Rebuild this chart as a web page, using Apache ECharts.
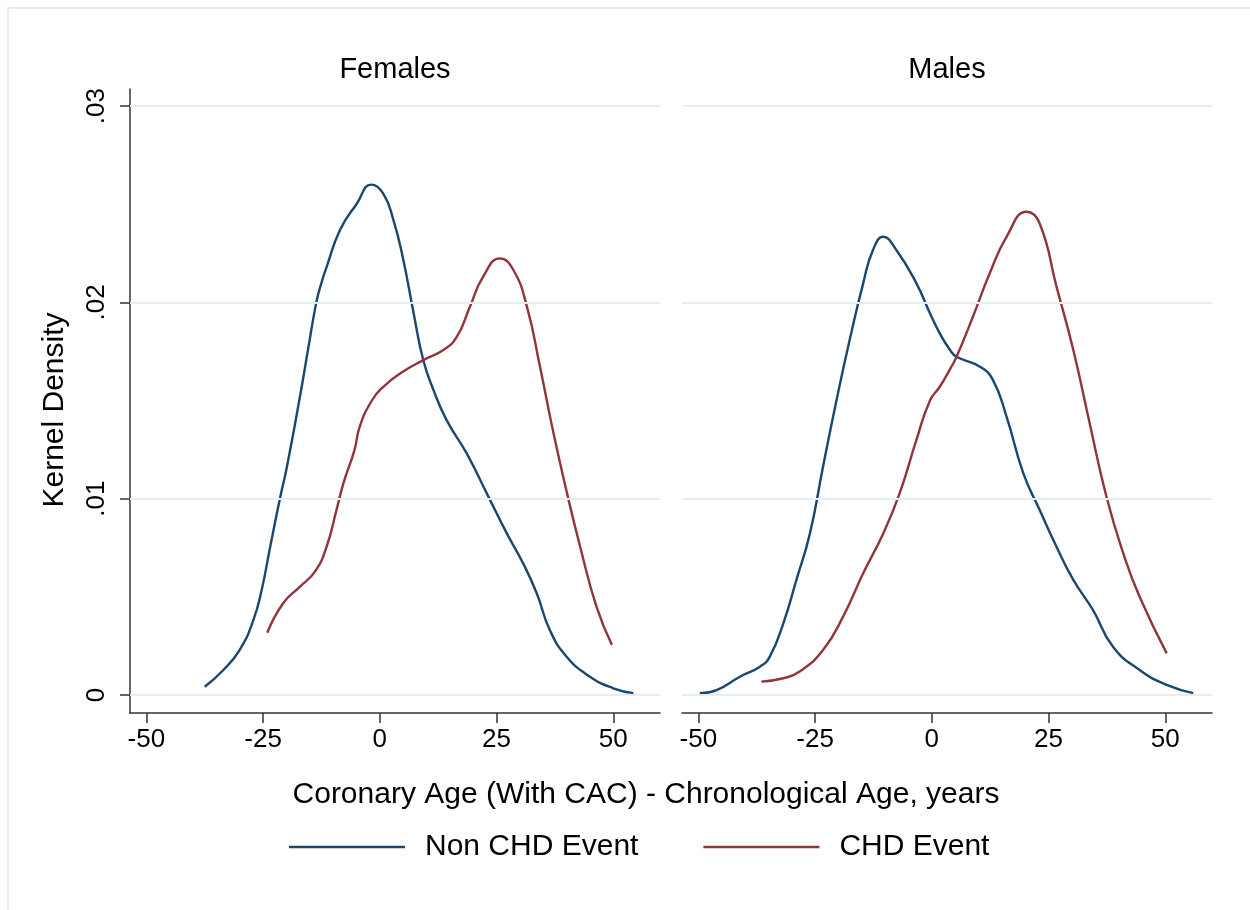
<!DOCTYPE html>
<html>
<head>
<meta charset="utf-8">
<title>Kernel Density</title>
<script src="https://cdn.jsdelivr.net/npm/echarts@6/dist/echarts.min.js"></script>
<style>
  html, body { margin: 0; padding: 0; background: #fff; }
  #chart { width: 1250px; height: 910px; }
</style>
</head>
<body>
<div id="chart"></div>
<script>
// Kernel density of (coronary age - chronological age), by sex and CHD event status
const panels = ['Females', 'Males'];
const seriesNames = ['Non CHD Event', 'CHD Event'];

const xTicks = [-50, -25, 0, 25, 50];
const yTicks = [0, 0.01, 0.02, 0.03];

// Females, no CHD event
const femNonX = [-37.5, -33.5, -30, -27.1, -25.3, -23.6, -21.4, -20, -17.1, -15.3, -13.6, -12.5, -11.4, -8.5, -5, -1.8, 0.7, 2.9, 5, 7.2, 9.3, 11.5, 14.3, 18.6, 22.9, 27.2, 30.7, 33.6, 36.4, 40, 45, 50, 54.3];
const femNonY = [0.00042, 0.00127, 0.0023, 0.0038, 0.00535, 0.0074, 0.0100, 0.0115, 0.0152, 0.0177, 0.0200, 0.0210, 0.0218, 0.0237, 0.0250, 0.0260, 0.02555, 0.0242, 0.0222, 0.0195, 0.01706, 0.01553, 0.0140, 0.01231, 0.01027, 0.00823, 0.0067, 0.00518, 0.00331, 0.00195, 0.00093, 0.00034, 0.00009];

// Females, CHD event
const femChdX = [-24.1, -20.7, -17.1, -13.9, -11.4, -9.3, -7.8, -5.4, -4.3, -1.7, 0.75, 4.5, 9.3, 13.6, 16.5, 19.3, 22.1, 25.7, 28.6, 31.5, 34.3, 37.2, 40.1, 42.9, 46.4, 49.7];
const femChdY = [0.00317, 0.00467, 0.00552, 0.00628, 0.00755, 0.0094, 0.01078, 0.0125, 0.01367, 0.0150, 0.0157, 0.0164, 0.01706, 0.01757, 0.01825, 0.01978, 0.0213, 0.02224, 0.02165, 0.01978, 0.01672, 0.01333, 0.01027, 0.00755, 0.0045, 0.00255];

// Males, no CHD event
const maleNonX = [-49.7, -46.1, -41.1, -36.8, -34.7, -31.8, -29, -26.1, -23.3, -20.4, -17.6, -14.7, -12.6, -10.4, -7.6, -3.3, -0.4, 1.7, 3.9, 5.3, 10.3, 13.1, 16, 19.6, 23.1, 26.7, 30.3, 34.5, 38.8, 44.5, 50.3, 56];
const maleNonY = [0.00009, 0.00025, 0.00093, 0.00144, 0.00195, 0.00365, 0.00586, 0.00823, 0.01163, 0.01503, 0.01808, 0.02097, 0.02267, 0.02334, 0.02267, 0.02097, 0.01944, 0.01842, 0.01757, 0.01723, 0.01672, 0.01604, 0.01418, 0.01129, 0.00942, 0.00755, 0.00586, 0.00433, 0.00246, 0.00127, 0.00051, 0.00009];

// Males, CHD event
const maleChdX = [-36.5, -31.8, -28.3, -23.3, -19, -14.7, -10.4, -6.9, -3.3, -0.4, 1.7, 3.9, 5.3, 8.8, 12.4, 16, 20.3, 23.1, 26.7, 30.3, 33.8, 37.4, 41, 44.5, 50.3];
const maleChdY = [0.00068, 0.00085, 0.00119, 0.00229, 0.00399, 0.0062, 0.00823, 0.01027, 0.01299, 0.0150, 0.0157, 0.0166, 0.01723, 0.01927, 0.02148, 0.02334, 0.02462, 0.02402, 0.0208, 0.01757, 0.01384, 0.0101, 0.00722, 0.005, 0.00212];

const NAVY = '#1a476f';
const MAROON = '#90353b';
const GRID_COLOR = '#e5eef1';
const FONT = "'Liberation Sans', Arial, Helvetica, sans-serif";

// Plot region extends slightly past the tick range on every side
const X_MIN = -53.5, X_MAX = 60;
const Y_MIN = -0.00092, Y_MAX = 0.03087;

const pairs = (xs, ys) => xs.map((x, i) => [x, ys[i]]);
const fmtY = v => (v === 0 ? '0' : String(v).replace(/^0/, ''));

const grids = [
  { left: 130, top: 89, width: 530, height: 624 },
  { left: 682, top: 89, width: 530, height: 624 }
];

function xAxisFor(i) {
  return {
    type: 'value', gridIndex: i, min: X_MIN, max: X_MAX,
    axisLine: { show: true, onZero: false, lineStyle: { color: '#333', width: 1.5 } },
    axisTick: { show: true, length: 10, customValues: xTicks, lineStyle: { color: '#333', width: 1.5 } },
    axisLabel: { customValues: xTicks, fontSize: 26, fontFamily: FONT, color: '#000', margin: 14 },
    splitLine: { show: false }
  };
}

function yAxisFor(i) {
  const first = i === 0;
  return {
    type: 'value', gridIndex: i, min: Y_MIN, max: Y_MAX,
    axisLine: { show: first, onZero: false, lineStyle: { color: '#333', width: 1.5 } },
    axisTick: { show: first, length: 10, customValues: yTicks, lineStyle: { color: '#333', width: 1.5 } },
    axisLabel: { show: first, customValues: yTicks, rotate: 90, fontSize: 26, fontFamily: FONT, color: '#000', margin: 20, formatter: fmtY },
    splitLine: { show: false }
  };
}

function curve(name, color, i, data, withGrid) {
  const s = {
    name, type: 'line', xAxisIndex: i, yAxisIndex: i, data,
    showSymbol: false, symbol: 'none', smooth: 0.5,
    lineStyle: { color, width: 2.4 }, itemStyle: { color },
    z: 3
  };
  if (withGrid) {
    s.markLine = {
      silent: true, symbol: 'none', label: { show: false }, animation: false,
      lineStyle: { color: GRID_COLOR, width: 2, type: 'solid' },
      data: yTicks.map(v => ({ yAxis: v }))
    };
  }
  return s;
}

const chart = echarts.init(document.getElementById('chart'), null, { renderer: 'canvas' });

chart.setOption({
  backgroundColor: '#fff',
  animation: false,
  textStyle: { fontFamily: FONT },
  grid: grids,
  xAxis: [xAxisFor(0), xAxisFor(1)],
  yAxis: [yAxisFor(0), yAxisFor(1)],
  legend: {
    left: 284, top: 827,
    icon: 'rect',
    itemWidth: 116, itemHeight: 2.4, itemGap: 65,
    data: seriesNames,
    textStyle: { fontSize: 30, fontFamily: FONT, color: '#000', padding: [0, 0, 0, 15] }
  },
  graphic: [
    { type: 'rect', silent: true, z: -10,
      shape: { x: 8, y: 8, width: 1300, height: 1000 },
      style: { fill: 'none', stroke: GRID_COLOR, lineWidth: 2 } },
    { type: 'text', x: 395, y: 70,
      style: { text: panels[0], font: '29px ' + FONT, fill: '#000', textAlign: 'center', textVerticalAlign: 'middle' } },
    { type: 'text', x: 947, y: 70,
      style: { text: panels[1], font: '29px ' + FONT, fill: '#000', textAlign: 'center', textVerticalAlign: 'middle' } },
    { type: 'text', x: 646, y: 795,
      style: { text: 'Coronary Age (With CAC) - Chronological Age, years', font: '30px ' + FONT, fill: '#000', textAlign: 'center', textVerticalAlign: 'middle' } },
    { type: 'text', x: 55, y: 410, rotation: Math.PI / 2,
      style: { text: 'Kernel Density', font: '30px ' + FONT, fill: '#000', textAlign: 'center', textVerticalAlign: 'middle' } }
  ],
  series: [
    curve(seriesNames[0], NAVY, 0, pairs(femNonX, femNonY), true),
    curve(seriesNames[1], MAROON, 0, pairs(femChdX, femChdY), false),
    curve(seriesNames[0], NAVY, 1, pairs(maleNonX, maleNonY), true),
    curve(seriesNames[1], MAROON, 1, pairs(maleChdX, maleChdY), false)
  ]
});
</script>
</body>
</html>
